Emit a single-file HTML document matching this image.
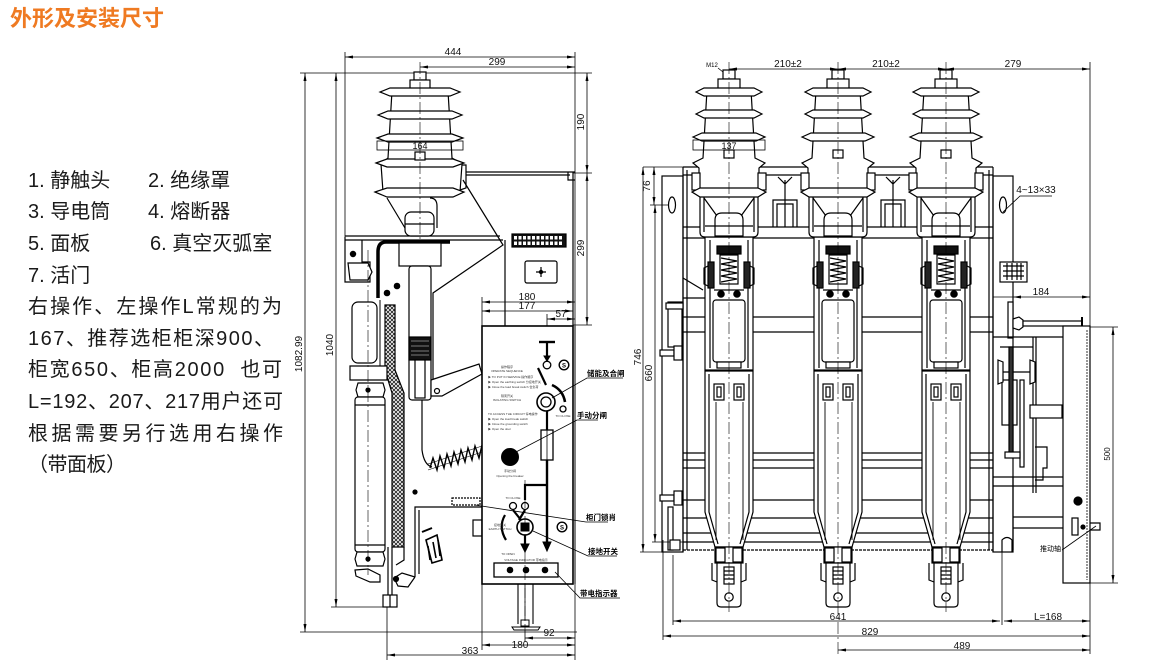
<!DOCTYPE html>
<html><head><meta charset="utf-8">
<style>
html,body{margin:0;padding:0;background:#fff;width:1151px;height:668px;overflow:hidden;}
svg{display:block;}
.d{font-family:"Liberation Sans",sans-serif;font-size:10px;fill:#111;}
.s{font-family:"Liberation Sans",sans-serif;font-size:9px;fill:#111;}
.cn{font-family:"Liberation Sans","Noto Sans CJK SC",sans-serif;}
.t{font-family:"Liberation Sans","Noto Sans CJK SC",sans-serif;font-size:3px;fill:#333;}
</style></head><body>
<svg width="1151" height="668" viewBox="0 0 1151 668" xmlns="http://www.w3.org/2000/svg">
<defs>
<marker id="ar" viewBox="0 0 8 3" refX="8" refY="1.5" markerWidth="8" markerHeight="3" orient="auto-start-reverse" markerUnits="userSpaceOnUse"><path d="M0,0L8,1.5L0,3z" fill="#000"/></marker>
<pattern id="hx" width="4" height="4" patternUnits="userSpaceOnUse"><rect width="4" height="4" fill="#fff"/><path d="M0,0L4,4M4,0L0,4" stroke="#222" stroke-width="0.9"/></pattern>

<g id="ins" stroke="#000" stroke-width="1.2" fill="#fff">
 <path d="M-29,177 L-29,232 Q-29,237 -24,237 L24,237 Q29,237 29,232 L29,177"/>
 <path d="M-25,196 L-25,232 M25,196 L25,232" fill="none"/>
 <path d="M-22,90 L22,90 L26,158 L36,163 L30,168 L30,192 L-30,192 L-30,168 L-36,163 L-26,158Z"/>
 <rect x="-37" y="173" width="8" height="17"/>
 <rect x="29" y="173" width="8" height="17"/>
 <rect x="-6" y="70" width="12" height="9"/>
 <rect x="-11" y="79" width="22" height="11"/>
 <path d="M-33,92 L-25,88 L25,88 L33,92 L25,96 L-25,96Z"/>
 <path d="M-33,114 L-25,110 L25,110 L33,114 L25,118 L-25,118Z"/>
 <path d="M-36,137 L-27,133 L27,133 L36,137 L27,141 L-27,141Z"/>
 <path d="M-37,192 L-29,188 L29,188 L37,192 L29,197 L-29,197Z"/>
 <rect x="-5" y="150" width="10" height="8"/>
 <path d="M-25,198 L-12,216 M25,198 L12,216" fill="none"/>
 <path d="M-14,236 L-14,220 Q-14,213 -7,213 L7,213 Q14,213 14,220 L14,236Z"/>
 <line x1="-24" y1="226" x2="24" y2="226"/>
</g>

<g id="col" stroke="#000" stroke-width="1.2" fill="#fff">
 <rect x="-24" y="237" width="48" height="133"/>
 <line x1="-19" y1="240" x2="-19" y2="368"/>
 <line x1="19" y1="240" x2="19" y2="368"/>
 <rect x="-12" y="246" width="24" height="8" fill="#111"/>
 <rect x="-9" y="255" width="18" height="29"/>
 <path d="M-8,258 L8,261 L-8,264 L8,267 L-8,270 L8,273 L-8,276 L8,279 L-8,282" fill="none"/>
 <rect x="-21" y="262" width="6" height="26" fill="#222"/>
 <rect x="15" y="262" width="6" height="26" fill="#222"/>
 <path d="M-21,266 L-25,268 L-25,284 L-21,286 M21,266 L25,268 L25,284 L21,286" fill="none"/>
 <line x1="-15" y1="290" x2="15" y2="290"/>
 <circle cx="-8" cy="294" r="3.2" fill="#000"/>
 <circle cx="8" cy="294" r="3.2" fill="#000"/>
 <rect x="-16" y="300" width="32" height="62" rx="3"/>
 <rect x="-12" y="362" width="24" height="6"/>
 <path d="M-24,371 L24,371 L24,512 L14,547 L-14,547 L-24,512Z"/>
 <path d="M-20,374 L-20,512 L-11,544 M20,374 L20,512 L11,544" fill="none"/>
 <path d="M-13,402 L-13,540 M14,402 L14,540" fill="none" stroke-width="0.9"/>
 <rect x="-15" y="384" width="10" height="16"/><rect x="-12" y="387" width="4" height="10"/>
 <rect x="5" y="384" width="10" height="16"/><rect x="8" y="387" width="4" height="10"/>
 <rect x="-14" y="547" width="28" height="16"/>
 <rect x="-13" y="548" width="9" height="14"/><rect x="4" y="548" width="9" height="14"/>
 <path d="M-17,563 L-17,580 L-12,582 M17,563 L17,580 L12,582" fill="none"/>
 <path d="M-12,563 L12,563 L12,603 Q12,607 8,607 L-8,607 Q-12,607 -12,603Z"/>
 <rect x="-5" y="567" width="10" height="17"/>
 <path d="M-5,571 L5,571 M-5,575 L5,575 M-5,579 L5,579" fill="none"/>
 <circle cx="0" cy="597" r="4.2"/>
</g>
</defs>

<rect width="1151" height="668" fill="#fff"/>

<!-- Title -->
<text x="10" y="26" class="cn" font-size="22" font-weight="bold" fill="#ef7a22">外形及安装尺寸</text>

<!-- List -->
<g class="cn" font-size="20" fill="#1a1a1a">
<text x="28" y="187">1. 静触头</text><text x="148" y="187">2. 绝缘罩</text>
<text x="28" y="218">3. 导电筒</text><text x="148" y="218">4. 熔断器</text>
<text x="28" y="250">5. 面板</text><text x="150" y="250">6. 真空灭弧室</text>
<text x="28" y="282">7. 活门</text>
<text x="28" y="313" textLength="254" lengthAdjust="spacing">右操作、左操作L常规的为</text>
<text x="28" y="345" textLength="246" lengthAdjust="spacing">167、推荐选柜柜深900、</text>
<text x="28" y="376" textLength="254" lengthAdjust="spacing" style="white-space:pre">柜宽650、柜高2000  也可</text>
<text x="28" y="408" textLength="255" lengthAdjust="spacing">L=192、207、217用户还可</text>
<text x="28" y="440" textLength="255" lengthAdjust="spacing">根据需要另行选用右操作</text>
<text x="28" y="471" textLength="98" lengthAdjust="spacing">（带面板）</text>
</g>

<!-- ================= LEFT VIEW ================= -->
<g stroke="#000" stroke-width="0.8" fill="none">
 <line x1="300" y1="73" x2="592" y2="73"/>
 <line x1="345" y1="52" x2="345" y2="237"/>
 <line x1="575" y1="52" x2="575" y2="660"/>
 <line x1="300" y1="632" x2="577" y2="632"/>
 <line x1="331" y1="607" x2="392" y2="607"/>
 <line x1="573" y1="173" x2="592" y2="173"/>
 <line x1="573" y1="325" x2="592" y2="325"/>
 <line x1="482" y1="297" x2="482" y2="326"/>
 <line x1="547" y1="314" x2="547" y2="342"/>
 <line x1="482" y1="584" x2="482" y2="650"/>
 <line x1="387" y1="607" x2="387" y2="660"/>
 <line x1="525" y1="584" x2="525" y2="642"/>
 <line x1="345" y1="57" x2="575" y2="57" marker-start="url(#ar)" marker-end="url(#ar)"/>
 <line x1="420" y1="67" x2="575" y2="67" marker-start="url(#ar)" marker-end="url(#ar)"/>
 <line x1="305" y1="73" x2="305" y2="632" marker-start="url(#ar)" marker-end="url(#ar)"/>
 <line x1="336" y1="73" x2="336" y2="607" marker-start="url(#ar)" marker-end="url(#ar)"/>
 <line x1="587" y1="73" x2="587" y2="173" marker-start="url(#ar)" marker-end="url(#ar)"/>
 <line x1="587" y1="173" x2="587" y2="325" marker-start="url(#ar)" marker-end="url(#ar)"/>
 <line x1="482" y1="302" x2="575" y2="302" marker-start="url(#ar)" marker-end="url(#ar)"/>
 <line x1="482" y1="311" x2="573" y2="311" marker-start="url(#ar)" marker-end="url(#ar)"/>
 <line x1="547" y1="319" x2="575" y2="319" marker-start="url(#ar)" marker-end="url(#ar)"/>
 <line x1="525" y1="638" x2="575" y2="638" marker-start="url(#ar)" marker-end="url(#ar)"/>
 <line x1="482" y1="645" x2="575" y2="645" marker-start="url(#ar)" marker-end="url(#ar)"/>
 <line x1="387" y1="655" x2="575" y2="655" marker-start="url(#ar)" marker-end="url(#ar)"/>
</g>
<g class="d" text-anchor="middle">
 <text x="453" y="55">444</text>
 <text x="497" y="65">299</text>
 <text x="527" y="300">180</text>
 <text x="527" y="309">177</text>
 <text x="561" y="317">57</text>
 <text x="549" y="636">92</text>
 <text x="520" y="648">180</text>
 <text x="470" y="654">363</text>
 <text transform="translate(302,354) rotate(-90)">1082.99</text>
 <text transform="translate(333,345) rotate(-90)">1040</text>
 <text transform="translate(584,122) rotate(-90)">190</text>
 <text transform="translate(584,248) rotate(-90)">299</text>
</g>

<!-- cabinet structure -->
<g stroke="#000" stroke-width="1.2" fill="none">
 <line x1="466" y1="172" x2="575" y2="172"/>
 <line x1="466" y1="175" x2="570" y2="175"/>
 <path d="M568,172 L568,180 L575,180"/>
 <line x1="573" y1="172" x2="573" y2="326"/>
 <line x1="505" y1="240" x2="505" y2="326"/>
 <line x1="345" y1="236" x2="500" y2="236"/>
 <line x1="345" y1="240" x2="503" y2="240"/>
 <path d="M463,180 L503,245 L433,293 L433,382"/>
 <path d="M345,237 L345,282 L370,282 L370,262 L362,262 L362,240"/>
 <path d="M348,263 L368,263 L372,272 L368,280 L350,280 Z" fill="#fff"/>
 <circle cx="353" cy="254" r="2.6" fill="#000"/>
 <circle cx="387" cy="293" r="2.7" fill="#000"/>
 <circle cx="397" cy="286" r="2.7" fill="#000"/>
 <path d="M450,242 L386,242 Q378,242 378,252 L378,298" stroke-width="3.5"/>
 <rect x="512" y="234" width="54" height="13" fill="#111"/>
 <rect x="525" y="261" width="32" height="22" rx="2" fill="#fff"/>
 <path d="M536,272 L546,272 M541,267 L541,277"/>
 <circle cx="541" cy="272" r="1.6" fill="#000"/>
</g>
<g fill="#fff">
 <rect x="514" y="236" width="3" height="3.5"/><rect x="518.5" y="236" width="3" height="3.5"/><rect x="523" y="236" width="3" height="3.5"/><rect x="527.5" y="236" width="3" height="3.5"/><rect x="532" y="236" width="3" height="3.5"/><rect x="536.5" y="236" width="3" height="3.5"/><rect x="541" y="236" width="3" height="3.5"/><rect x="545.5" y="236" width="3" height="3.5"/><rect x="550" y="236" width="3" height="3.5"/><rect x="554.5" y="236" width="3" height="3.5"/><rect x="559" y="236" width="3" height="3.5"/>
 <rect x="514" y="241.5" width="3" height="3.5"/><rect x="518.5" y="241.5" width="3" height="3.5"/><rect x="523" y="241.5" width="3" height="3.5"/><rect x="527.5" y="241.5" width="3" height="3.5"/><rect x="532" y="241.5" width="3" height="3.5"/><rect x="536.5" y="241.5" width="3" height="3.5"/><rect x="541" y="241.5" width="3" height="3.5"/><rect x="545.5" y="241.5" width="3" height="3.5"/><rect x="550" y="241.5" width="3" height="3.5"/><rect x="554.5" y="241.5" width="3" height="3.5"/><rect x="559" y="241.5" width="3" height="3.5"/>
</g>

<!-- left insulator -->
<g stroke="#000" stroke-width="1.2" fill="#fff">
 <path d="M387,198 L405,228 M430,198 Q437,198 437,206 L437,228" fill="none"/>
 <path d="M458,165 L466,165 L466,188 L460,190" fill="none"/>
 <rect x="405" y="212" width="29" height="24" rx="6"/>
 <line x1="405" y1="224" x2="434" y2="224"/>
 <path d="M392,91 L448,91 L452,158 L462,164 L460,192 L383,192 L381,164 L388,158Z"/>
 <rect x="414" y="72" width="12" height="8"/>
 <rect x="410" y="80" width="20" height="11"/>
 <path d="M380,92 L390,88 L450,88 L460,92 L450,96 L390,96Z"/>
 <path d="M378,115 L388,111 L452,111 L462,115 L452,119 L388,119Z"/>
 <path d="M377,138 L388,134 L452,134 L463,138 L452,142 L388,142Z"/>
 <path d="M376,163 L387,159 L453,159 L464,163 L453,167 L387,167Z"/>
 <path d="M375,192 L387,188 L453,188 L464,192 L453,197 L387,197Z"/>
 <rect x="377" y="141" width="86" height="9" fill="none" stroke-width="0.8"/>
 <rect x="415" y="152" width="10" height="8"/>
</g>
<text x="420" y="149" class="s" text-anchor="middle">164</text>
<line x1="420" y1="62" x2="420" y2="300" stroke="#000" stroke-width="0.6" stroke-dasharray="12 3 2 3"/>

<!-- conductor -->
<g stroke="#000" stroke-width="1.2" fill="#fff">
 <rect x="399" y="243" width="42" height="23"/>
 <rect x="409" y="266" width="22" height="134" rx="3"/>
 <rect x="409" y="337" width="22" height="23" fill="#111"/>
 <path d="M411,341 L429,341 M411,346 L429,346 M411,351 L429,351 M411,355 L429,355" stroke="#666"/>
 <rect x="415" y="360" width="10" height="38"/>
 <path d="M431,380 L479,364 L482,374 L442,396 L431,396 Z"/>
 <circle cx="437" cy="391" r="2.5"/>
 <path d="M422,400 L422,450 Q424,465 432,467" fill="none"/>
 <path d="M430,468 L433,458 L437,470 L440,456 L444,468 L447,454 L451,466 L454,452 L458,464 L461,450 L465,462 L468,448 L472,460 L475,446 L479,458 L482,445" fill="none" stroke-width="1.4"/>
 <path d="M428,470 L482,452 M428,464 L482,446" fill="none" stroke-width="0.6"/>
</g>

<!-- left tubes -->
<g stroke="#000" stroke-width="1.2" fill="#fff">
 <path d="M385,305 L385,370 L392,393 L392,547 L404,547 L404,393 L395,370 L395,305 Z" fill="url(#hx)"/>
 <line x1="380" y1="300" x2="380" y2="372" stroke-width="1"/>
 <rect x="352" y="302" width="25" height="61" rx="6"/>
 <path d="M350,366 L387,366 L387,380 L350,380 Z"/>
 <path d="M358,383 L383,383 L385,390 L383,397 L358,397 L356,390 Z"/>
 <rect x="355" y="397" width="30" height="155" rx="3"/>
 <line x1="355" y1="405" x2="385" y2="405"/>
 <line x1="355" y1="545" x2="385" y2="545"/>
 <path d="M357,552 L383,552 L385,559 L383,566 L357,566 L355,559 Z"/>
 <path d="M355,570 L368,569 L380,575 L380,582 L370,582 L356,576 Z"/>
 <circle cx="368" cy="390" r="2" fill="#000"/>
 <circle cx="368" cy="559" r="2" fill="#000"/>
</g>
<line x1="368" y1="250" x2="368" y2="575" stroke="#000" stroke-width="0.6" stroke-dasharray="12 3 2 3"/>

<!-- lower left mech -->
<g stroke="#000" stroke-width="1.2" fill="none">
 <circle cx="415" cy="492" r="2" fill="#000"/>
 <path d="M482,507 L415,507 L415,577"/>
 <path d="M419,510 L419,574"/>
 <path d="M415,577 L408,587 L398,586 L394,578 L402,573 L415,577"/>
 <circle cx="396" cy="579" r="2.5" fill="#000"/>
 <rect x="452" y="498" width="28" height="7" stroke-dasharray="2 1"/>
 <rect x="473" y="520" width="9" height="16" fill="#fff"/>
 <path d="M426,540 L437,535 L442,560 L432,563 Z" stroke-width="1.6" fill="#fff"/>
 <path d="M428,546 L430,560 M433,542 L436,558 M438,540 L440,556" stroke-width="1.6"/>
 <path d="M422,532 L432,528" stroke-width="2"/>
 <line x1="388" y1="547" x2="388" y2="607"/>
 <line x1="392" y1="547" x2="392" y2="595"/>
 <rect x="383" y="595" width="14" height="12" fill="#fff"/>
 <line x1="390" y1="595" x2="390" y2="607"/>
 <path d="M404,547 L404,560 L396,565"/>
</g>

<!-- panel -->
<g stroke="#000" fill="none">
 <rect x="482" y="326" width="91" height="258" stroke-width="1.6" fill="#fff"/>
 <line x1="575" y1="326" x2="575" y2="584" stroke-width="1"/>
 <line x1="518" y1="584" x2="518" y2="624" stroke-width="1.1"/>
 <line x1="533" y1="584" x2="533" y2="624" stroke-width="1.1"/>
 <path d="M512,627 L540,627 L538,630 L514,630 Z" stroke-width="1" fill="#fff"/>
 <rect x="521" y="620" width="8" height="6" stroke-width="1" fill="#fff"/>
 <path d="M539,342 L555,342" stroke-width="2.4"/>
 <path d="M547,342 L547,357" stroke-width="2.2"/>
 <path d="M544,356 L547,361 L550,356Z" fill="#000"/>
 <circle cx="547" cy="365" r="3.8" stroke-width="1.3"/>
 <circle cx="564" cy="365" r="4.8" stroke-width="1.4"/>
 <text x="564" y="367.5" font-family="Liberation Sans" font-size="6" font-weight="bold" fill="#000" stroke="none" text-anchor="middle">S</text>
 <path d="M538,368 L546,385" stroke-width="2.2"/>
 <circle cx="546" cy="402" r="9" stroke-width="1.6"/>
 <circle cx="546" cy="402" r="5" stroke-width="1.3"/>
 <path d="M552,385 Q563,390 565,402" stroke-width="2.6"/>
 <circle cx="563" cy="409" r="3" stroke-width="1.3"/>
 <path d="M547,411 L547,430" stroke-width="2.2"/>
 <rect x="541" y="430" width="12" height="30" stroke-width="1.3" fill="#fff"/>
 <line x1="547" y1="430" x2="547" y2="460" stroke-width="0.8"/>
 <path d="M547,460 L547,543" stroke-width="2.4"/>
 <path d="M543,542 L547,551 L551,542Z" fill="#000"/>
 <circle cx="510" cy="457" r="8.5" fill="#000"/>
 <path d="M547,485 L525,485 L525,500" stroke-width="2.2"/>
 <circle cx="513" cy="506" r="3.5" stroke-width="1.3"/>
 <circle cx="525" cy="506" r="3.5" stroke-width="1.3"/>
 <path d="M513,510 L521,520 M525,510 L519,520" stroke-width="2.2"/>
 <path d="M505,515 Q498,527 506,540" stroke-width="2.2"/>
 <circle cx="525" cy="527" r="8" stroke-width="1.6" fill="#fff"/>
 <rect x="521" y="523" width="8" height="8" fill="#000"/>
 <path d="M525,535 L525,545" stroke-width="2.2"/>
 <path d="M521,544 L525,552 L529,544Z" fill="#000"/>
 <circle cx="562" cy="527" r="4.8" stroke-width="1.4"/>
 <text x="562" y="529.5" font-family="Liberation Sans" font-size="6" font-weight="bold" fill="#000" stroke="none" text-anchor="middle">S</text>
 <rect x="494" y="563" width="64" height="14" stroke-width="1.3" fill="#fff"/>
 <circle cx="510" cy="570" r="2.8" fill="#000"/>
 <circle cx="526" cy="570" r="2.8" fill="#000"/>
 <circle cx="545" cy="570" r="2.8" fill="#000"/>
 <line x1="525" y1="480" x2="525" y2="630" stroke-width="0.6" stroke-dasharray="10 3 2 3"/>
</g>
<g class="t">
 <text x="507" y="368" text-anchor="middle">操作程序</text>
 <text x="507" y="372" text-anchor="middle">OPERATE SEQUENCE</text>
 <text x="488" y="378">▶ TO PUT IN SERVICE    操作顺序</text>
 <text x="488" y="383">▶ Open the earthing switch  分接地开关</text>
 <text x="488" y="388">▶ Close the load break switch 合负荷</text>
 <text x="507" y="397" text-anchor="middle">隔离开关</text>
 <text x="507" y="401" text-anchor="middle">ISOLATING SWITCH</text>
 <text x="488" y="415">TO ACCESS THE CIRCUIT 停电操作</text>
 <text x="488" y="420">▶ Open the load break switch</text>
 <text x="488" y="425">▶ Close the grounding switch</text>
 <text x="488" y="430">▶ Open the door</text>
 <text x="563" y="417" text-anchor="middle">TO CLOSE</text>
 <text x="510" y="472" text-anchor="middle">手动分闸</text>
 <text x="510" y="477" text-anchor="middle">Opening the breaker</text>
 <text x="513" y="499" text-anchor="middle">TO CLOSE</text>
 <text x="500" y="526" text-anchor="middle">接地开关</text>
 <text x="500" y="530" text-anchor="middle">EARTH SWITCH</text>
 <text x="508" y="555" text-anchor="middle">TO OPEN</text>
 <text x="526" y="561" text-anchor="middle">VOLTAGE INDICATOR 带电指示</text>
</g>

<!-- callouts -->
<g stroke="#000" stroke-width="0.8" fill="none">
 <path d="M552,398 L587,378 L623,378"/>
 <path d="M516,452 L577,420 L598,420"/>
 <path d="M475,505 L586,522 L608,522"/>
 <path d="M533,531 L588,556 L617,556"/>
 <path d="M555,572 L580,598 L620,598"/>
</g>
<g class="cn" font-size="7.5" font-weight="bold" fill="#000">
 <text x="587" y="376">储能及合闸</text>
 <text x="577" y="418">手动分闸</text>
 <text x="586" y="520">柜门锁肖</text>
 <text x="588" y="554">接地开关</text>
 <text x="580" y="596">带电指示器</text>
</g>

<!-- ================= RIGHT VIEW ================= -->
<g stroke="#000" stroke-width="0.8" fill="none">
 <line x1="1090" y1="62" x2="1090" y2="654"/>
 <line x1="643" y1="167" x2="683" y2="167"/>
 <line x1="650" y1="205" x2="668" y2="205"/>
 <line x1="640" y1="552" x2="683" y2="552"/>
 <line x1="652" y1="542" x2="683" y2="542"/>
 <line x1="663" y1="540" x2="663" y2="640"/>
 <line x1="673" y1="555" x2="673" y2="625"/>
 <line x1="1002" y1="552" x2="1002" y2="625"/>
 <line x1="1083" y1="327" x2="1118" y2="327"/>
 <line x1="1064" y1="583" x2="1118" y2="583"/>
 <line x1="993" y1="297" x2="1013" y2="297"/>
 <line x1="729" y1="69" x2="838" y2="69" marker-start="url(#ar)" marker-end="url(#ar)"/>
 <line x1="838" y1="69" x2="946" y2="69" marker-start="url(#ar)" marker-end="url(#ar)"/>
 <line x1="946" y1="69" x2="1090" y2="69" marker-start="url(#ar)" marker-end="url(#ar)"/>
 <line x1="654" y1="167" x2="654" y2="205" marker-start="url(#ar)" marker-end="url(#ar)"/>
 <line x1="643" y1="167" x2="643" y2="552" marker-start="url(#ar)" marker-end="url(#ar)"/>
 <line x1="655" y1="205" x2="655" y2="542" marker-start="url(#ar)" marker-end="url(#ar)"/>
 <line x1="1013" y1="297" x2="1090" y2="297" marker-start="url(#ar)" marker-end="url(#ar)"/>
 <line x1="1113" y1="327" x2="1113" y2="583" marker-start="url(#ar)" marker-end="url(#ar)"/>
 <line x1="673" y1="621" x2="1000" y2="621" marker-start="url(#ar)" marker-end="url(#ar)"/>
 <line x1="1004" y1="621" x2="1090" y2="621" marker-start="url(#ar)" marker-end="url(#ar)"/>
 <line x1="663" y1="636" x2="1090" y2="636" marker-start="url(#ar)" marker-end="url(#ar)"/>
 <line x1="838" y1="650" x2="1090" y2="650" marker-start="url(#ar)" marker-end="url(#ar)"/>
 <path d="M718,68 L728,76"/>
 <path d="M1003,212 L1020,196 L1052,196"/>
</g>
<g class="d" text-anchor="middle">
 <text x="788" y="67">210±2</text>
 <text x="886" y="67">210±2</text>
 <text x="1013" y="67">279</text>
 <text x="1041" y="295">184</text>
 <text x="838" y="620">641</text>
 <text x="1048" y="620">L=168</text>
 <text x="870" y="635">829</text>
 <text x="962" y="649">489</text>
 <text x="1036" y="193">4~13×33</text>
 <text transform="translate(650,186) rotate(-90)">76</text>
 <text transform="translate(641,357) rotate(-90)">746</text>
 <text transform="translate(652,373) rotate(-90)">660</text>
 <text transform="translate(1110,454) rotate(-90)" font-size="8">500</text>
</g>
<text x="712" y="67" font-family="Liberation Sans" font-size="6" fill="#000" text-anchor="middle">M12</text>

<!-- frame -->
<g stroke="#000" stroke-width="1.2" fill="none">
 <line x1="683" y1="167" x2="993" y2="167"/>
 <line x1="683" y1="175" x2="993" y2="175"/>
 <line x1="683" y1="167" x2="683" y2="552"/>
 <line x1="687" y1="170" x2="687" y2="550"/>
 <line x1="993" y1="167" x2="993" y2="552"/>
 <line x1="989" y1="170" x2="989" y2="550"/>
 <rect x="662" y="176" width="21" height="376"/>
 <ellipse cx="672" cy="205" rx="3.5" ry="8"/>
 <ellipse cx="1003" cy="205" rx="3.5" ry="8"/>
 <rect x="993" y="176" width="20" height="376"/>
 <line x1="683" y1="227" x2="993" y2="227"/>
 <line x1="683" y1="238" x2="993" y2="238"/>
 <line x1="683" y1="317" x2="993" y2="317"/>
 <line x1="683" y1="332" x2="993" y2="332"/>
 <line x1="683" y1="453" x2="993" y2="453"/>
 <line x1="683" y1="460" x2="993" y2="460"/>
 <line x1="683" y1="468" x2="993" y2="468"/>
 <line x1="683" y1="500" x2="993" y2="500"/>
 <line x1="683" y1="518" x2="993" y2="518"/>
 <line x1="683" y1="533" x2="993" y2="533"/>
 <line x1="683" y1="542" x2="993" y2="542"/>
 <line x1="683" y1="550" x2="993" y2="550" stroke-dasharray="3 1"/>
 <path d="M773,227 L773,200 L797,200 L797,227 M777,227 L777,204 L793,204 L793,227 M785,180 L785,227 M778,177 L785,184 L792,177"/>
 <path d="M881,227 L881,200 L905,200 L905,227 M885,227 L885,204 L901,204 L901,227 M893,180 L893,227 M886,177 L893,184 L900,177"/>
 <path d="M683,278 L703,290 M683,298 L705,298"/>
 <rect x="668" y="302" width="14" height="45" fill="#fff"/>
 <rect x="666" y="303" width="17" height="6" fill="#fff"/>
 <rect x="660" y="350" width="14" height="6" fill="#fff"/>
 <rect x="674" y="346" width="8" height="14" fill="#fff"/>
 <rect x="660" y="495" width="14" height="6" fill="#fff"/>
 <rect x="674" y="491" width="8" height="14" fill="#fff"/>
 <rect x="668" y="507" width="5" height="43"/>
 <rect x="670" y="540" width="10" height="10" fill="#fff"/>
</g>
<use href="#col" x="729"/>
<use href="#col" x="838"/>
<use href="#col" x="946"/>
<use href="#ins" x="729"/>
<use href="#ins" x="838"/>
<use href="#ins" x="946"/>
<rect x="693" y="140" width="72" height="10" fill="none" stroke="#000" stroke-width="0.8"/>
<text x="729" y="149" class="s" text-anchor="middle">137</text>
<g stroke="#000" stroke-width="0.6" stroke-dasharray="12 3 2 3">
 <line x1="729" y1="62" x2="729" y2="612"/>
 <line x1="838" y1="62" x2="838" y2="655"/>
 <line x1="946" y1="62" x2="946" y2="612"/>
</g>

<!-- right mechanism -->
<g stroke="#000" stroke-width="1.2" fill="#fff">
 <rect x="1000" y="262" width="27" height="20"/>
 <path d="M1003,266 L1024,266 M1003,271 L1024,271 M1003,276 L1024,276 M1007,263 L1007,280 M1012,263 L1012,280 M1017,263 L1017,280 M1021,263 L1021,280" fill="none"/>
 <rect x="1008" y="302" width="5" height="36"/>
 <path d="M1013,319 L1019,317 L1023,320 L1023,327 L1019,330 L1013,328Z"/>
 <rect x="1023" y="321" width="59" height="5"/>
 <line x1="1082" y1="317" x2="1082" y2="329" stroke-width="2"/>
 <rect x="1063" y="326" width="27" height="257"/>
 <line x1="1087" y1="330" x2="1087" y2="580" stroke-width="0.8" stroke-dasharray="2 1"/>
 <line x1="993" y1="337" x2="1063" y2="337"/>
 <line x1="1000" y1="347" x2="1033" y2="347"/>
 <line x1="1033" y1="337" x2="1033" y2="493"/>
 <line x1="1036" y1="337" x2="1036" y2="493"/>
 <rect x="1002" y="380" width="15" height="45"/>
 <path d="M998,360 L1003,362 L1003,382 L998,384 Z M1030,360 L1035,362 L1035,382 L1030,384Z"/>
 <line x1="1003" y1="372" x2="1030" y2="372"/>
 <rect x="1009" y="347" width="4" height="108" fill="#333"/>
 <rect x="1020" y="380" width="4" height="87"/>
 <rect x="1030" y="405" width="32" height="13"/>
 <path d="M1035,447 L1047,447 L1047,468 L1043,468 L1043,480 L1035,480" fill="none"/>
 <rect x="1005" y="452" width="15" height="6"/>
 <line x1="1013" y1="477" x2="1013" y2="550"/>
 <line x1="993" y1="477" x2="1063" y2="477"/>
 <line x1="993" y1="486" x2="1063" y2="486"/>
 <line x1="1013" y1="517" x2="1063" y2="517"/>
 <line x1="1013" y1="528" x2="1063" y2="528"/>
 <path d="M1002,552 L1002,540 Q1007,535 1012,540 L1012,552" fill="none"/>
 <circle cx="1078" cy="501" r="4" fill="#000"/>
 <rect x="1072" y="518" width="6" height="17"/>
 <circle cx="1083" cy="527" r="2" fill="#000"/>
 <path d="M1090,523 L1100,523 L1100,530 L1090,530" fill="none"/>
</g>
<path d="M1062,550 L1096,526" stroke="#000" stroke-width="0.8" fill="none"/>
<text x="1040" y="551" class="cn" font-size="7" fill="#000">推动轴</text>

</svg>
</body></html>
